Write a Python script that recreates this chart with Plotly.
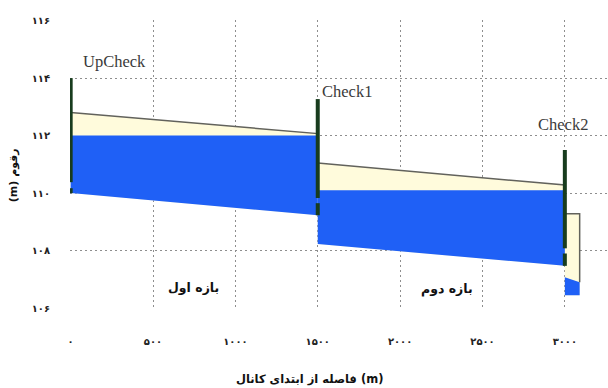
import plotly.graph_objects as go

# Canal reaches: chainage (m) and levels (m)
reach_start = [0, 1500, 3000]
reach_end = [1500, 3000, 3090]
surface_up = [112.80, 111.05, 109.28]
surface_dn = [112.07, 110.28, 109.28]
water_top_up = [112.00, 110.10, 107.07]
water_top_dn = [112.00, 110.10, 106.90]
bed_up = [110.00, 108.23, 106.45]
bed_dn = [109.23, 107.47, 106.45]
reach_names = ["بازه اول", "بازه دوم"]

# Check structures along the canal
gate_names = ["UpCheck", "Check1", "Check2"]
gate_x = [0, 1500, 3000]
gate_top = [114.00, 113.27, 111.50]
opening_top = [110.38, 109.83, 108.08]
opening_bottom = [110.17, 109.65, 107.90]
gate_base = [110.00, 109.23, 107.47]

# Axis ticks (Persian digits)
x_ticks = [0, 500, 1000, 1500, 2000, 2500, 3000]
x_tick_text = ["۰", "۵۰۰", "۱۰۰۰", "۱۵۰۰", "۲۰۰۰", "۲۵۰۰", "۳۰۰۰"]
y_ticks = [106, 108, 110, 112, 114, 116]
y_tick_text = ["۱۰۶", "۱۰۸", "۱۱۰", "۱۱۲", "۱۱۴", "۱۱۶"]

CREAM = "#fffbdc"
BLUE = "#1f60f6"
SURFACE = "#62625c"
GATE = "#183c1e"
GRID = "#8e8e8e"
FA_FONT = "DejaVu Sans"

fig = go.Figure()

# Freeboard zone (surface down to bed)
for s, e, su, sd, bu, bd in zip(reach_start, reach_end, surface_up, surface_dn, bed_up, bed_dn):
    fig.add_trace(go.Scatter(
        x=[s, e, e, s, s], y=[su, sd, bd, bu, su],
        mode="lines", fill="toself", fillcolor=CREAM,
        line=dict(width=0), hoverinfo="skip", showlegend=False))

# Water body
for s, e, wu, wd, bu, bd in zip(reach_start, reach_end, water_top_up, water_top_dn, bed_up, bed_dn):
    fig.add_trace(go.Scatter(
        x=[s, e, e, s, s], y=[wu, wd, bd, bu, wu],
        mode="lines", fill="toself", fillcolor=BLUE,
        line=dict(width=0), hoverinfo="skip", showlegend=False))

# Design surface outline
for s, e, su, sd, wd in zip(reach_start, reach_end, surface_up, surface_dn, water_top_dn):
    fig.add_trace(go.Scatter(
        x=[s, e, e], y=[su, sd, wd], mode="lines",
        line=dict(color=SURFACE, width=1.5), hoverinfo="skip", showlegend=False))

# Check gates: leaf above the opening and sill below it
gx, gy = [], []
for x, t, ot, ob, b in zip(gate_x, gate_top, opening_top, opening_bottom, gate_base):
    gx += [x, x, None, x, x, None]
    gy += [t, ot, None, ob, b, None]
fig.add_trace(go.Scatter(
    x=gx, y=gy, mode="lines", line=dict(color=GATE, width=4),
    hoverinfo="skip", showlegend=False))

# Gate names
label_pos = [(267, 114.56), (1677, 113.52), (2989, 112.37)]
for name, (lx, ly) in zip(gate_names, label_pos):
    fig.add_annotation(x=lx, y=ly, text=name, showarrow=False,
                       font=dict(family="Liberation Serif", size=16.5, color="#3a3a3a"))

# Reach names
reach_label_pos = [(748, 106.72), (2284, 106.66)]
for name, (lx, ly) in zip(reach_names, reach_label_pos):
    fig.add_annotation(x=lx, y=ly, text=name, showarrow=False,
                       font=dict(family=FA_FONT, size=12.5, color="#111", weight="bold"))

# Axis titles
fig.add_annotation(xref="paper", yref="paper", x=0.445, y=0, yshift=-70,
                   yanchor="middle",
                   text="فاصله از ابتدای کانال (m)", showarrow=False,
                   font=dict(family=FA_FONT, size=11.5, color="#111", weight="bold"))
fig.add_annotation(xref="paper", yref="paper", x=0, xshift=-57, y=0.463,
                   xanchor="center", yanchor="middle",
                   text="(m) رقوم", textangle=-90, showarrow=False,
                   font=dict(family=FA_FONT, size=11, color="#111", weight="bold"))

# Ranges padded a hair so the boundary gridlines (x=0, y=106) are drawn
fig.update_xaxes(
    range=[-4, 3262], tickvals=x_ticks, ticktext=x_tick_text,
    showgrid=True, gridcolor=GRID, griddash="2px,3px", gridwidth=1,
    zeroline=False, showline=False,
    ticks="outside", ticklen=23, tickcolor="rgba(0,0,0,0)",
    tickfont=dict(family=FA_FONT, size=10, color="#222", weight="bold"))
fig.update_yaxes(
    range=[105.97, 116.02], tickvals=y_ticks, ticktext=y_tick_text,
    showgrid=True, gridcolor=GRID, griddash="2px,3px", gridwidth=1,
    zeroline=False, showline=False,
    ticks="outside", ticklen=17, tickcolor="rgba(0,0,0,0)",
    tickfont=dict(family=FA_FONT, size=10, color="#222", weight="bold"))

fig.update_layout(
    width=608, height=388,
    margin=dict(l=70, r=0, t=20, b=79),
    paper_bgcolor="white", plot_bgcolor="white",
    showlegend=False)

fig.write_html("out.html")
